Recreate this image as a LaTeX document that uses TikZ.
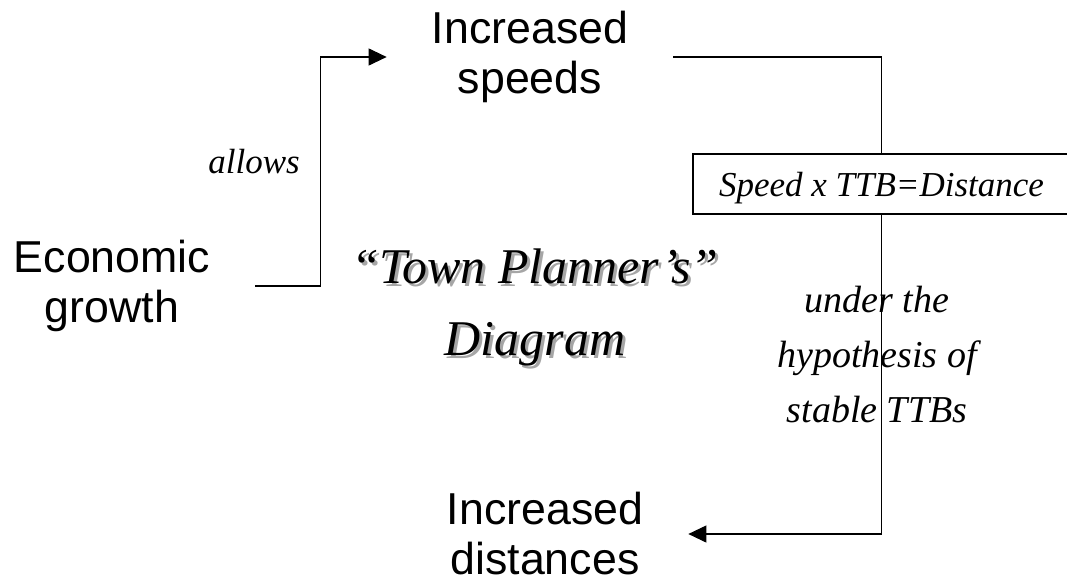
\documentclass[tikz,border=0pt]{standalone}
\usepackage{fontspec}
\setmainfont{Liberation Serif}
\setsansfont{Liberation Sans}
\usepackage{tikz}
\usetikzlibrary{arrows.meta}
\tikzstyle{term} = [font=\sffamily\fontsize{44.7}{50}\selectfont, align=center, inner xsep=45pt, inner ysep=0pt]
\tikzstyle{note} = [font=\itshape\fontsize{35}{55}\selectfont, align=center, inner sep=0pt]
\tikzstyle{formula} = [draw, fill=white, line width=1.1pt, font=\itshape\fontsize{35}{40}\selectfont, minimum width=377pt, minimum height=60pt, inner sep=0pt, text depth=0pt]
\tikzstyle{heading} = [font=\itshape\fontsize{50}{72}\selectfont, align=center, inner sep=0pt]
\tikzstyle{line} = [line width=1.1pt]
\tikzstyle{arrow} = [line width=1.1pt, -{Triangle[length=18pt, width=17pt]}]
\newcommand{\dropshadow}[1]{\makebox[0pt][l]{\hspace{3pt}\raisebox{-3pt}{\color{black!35}#1}}#1}

\begin{document}
\begin{tikzpicture}[x=1pt, y=-1pt]

  \useasboundingbox (0,0) rectangle (1067,583);

  \node (growth) [term] at (112,286) {Economic\\growth};
  \node (speeds) [term] at (530,57) {Increased\\speeds};
  \node (distances) [term] at (545,534) {Increased\\distances};

  \node (formula) [formula] at (881.5,184) {Speed x TTB=Distance};

  \node (allows) [note, anchor=base] at (254,173) {allows};

  \node (title) [heading] at (535,309) {\dropshadow{“Town Planner’s”}\\\dropshadow{Diagram}};

  \draw [arrow] (growth.east) -- ++(65,0) |- (speeds.west);
  \draw [line] (speeds.east) -| (formula.north);
  \draw [arrow] (formula.south) |- (distances.east);

  \node (hypothesis) [note, font=\itshape\fontsize{38}{55}\selectfont] at (877,355) {under the\\hypothesis of\\stable TTBs};

\end{tikzpicture}
\end{document}
